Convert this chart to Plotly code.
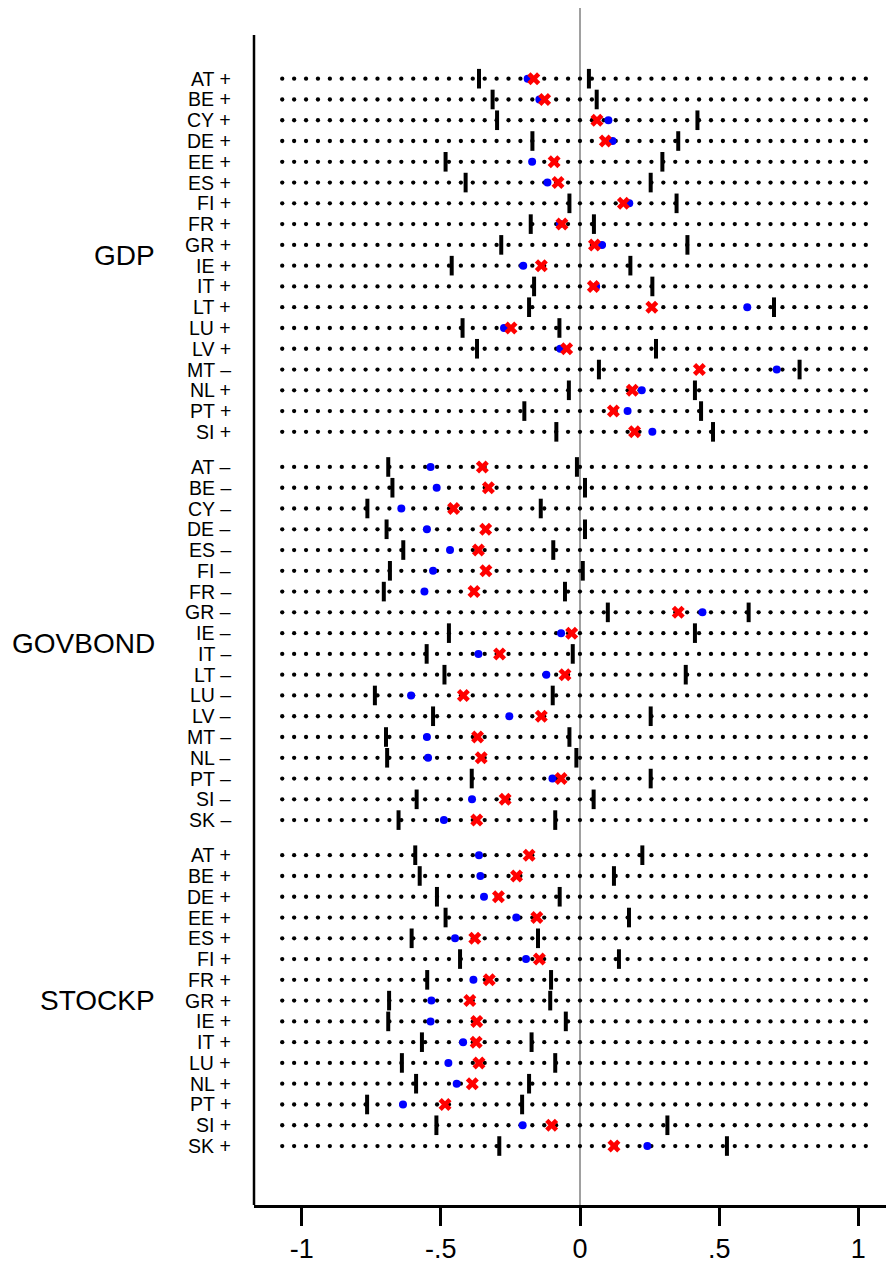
import numpy as np
import plotly.graph_objects as go

# ---------------- data ----------------
groups = ["GDP", "GOVBOND", "STOCKP"]

gdp_countries = ["AT", "BE", "CY", "DE", "EE", "ES", "FI", "FR", "GR", "IE", "IT", "LT", "LU", "LV", "MT", "NL", "PT", "SI"]
gdp_signs = ["+", "+", "+", "+", "+", "+", "+", "+", "+", "+", "+", "+", "+", "+", "–", "+", "+", "+"]
gdp_lo = [-0.363, -0.314, -0.298, -0.171, -0.483, -0.411, -0.038, -0.177, -0.283, -0.461, -0.165, -0.183, -0.422, -0.370, 0.068, -0.040, -0.200, -0.085]
gdp_blue = [-0.188, -0.146, 0.102, 0.117, -0.172, -0.117, 0.177, -0.072, 0.079, -0.204, 0.058, 0.601, -0.273, -0.071, 0.707, 0.222, 0.171, 0.260]
gdp_red = [-0.166, -0.127, 0.061, 0.091, -0.093, -0.079, 0.156, -0.065, 0.052, -0.139, 0.048, 0.258, -0.248, -0.048, 0.429, 0.188, 0.120, 0.196]
gdp_hi = [0.032, 0.060, 0.422, 0.353, 0.296, 0.254, 0.347, 0.050, 0.386, 0.181, 0.260, 0.697, -0.074, 0.273, 0.789, 0.413, 0.435, 0.478]

gov_countries = ["AT", "BE", "CY", "DE", "ES", "FI", "FR", "GR", "IE", "IT", "LT", "LU", "LV", "MT", "NL", "PT", "SI", "SK"]
gov_signs = ["–"] * 18
gov_lo = [-0.689, -0.674, -0.764, -0.695, -0.635, -0.683, -0.705, 0.100, -0.471, -0.551, -0.487, -0.737, -0.528, -0.697, -0.693, -0.389, -0.587, -0.652]
gov_blue = [-0.537, -0.515, -0.642, -0.550, -0.467, -0.528, -0.559, 0.440, -0.068, -0.365, -0.121, -0.607, -0.254, -0.550, -0.546, -0.099, -0.388, -0.489]
gov_red = [-0.351, -0.329, -0.454, -0.339, -0.365, -0.338, -0.381, 0.353, -0.030, -0.289, -0.054, -0.419, -0.139, -0.368, -0.355, -0.068, -0.269, -0.371]
gov_hi = [-0.011, 0.018, -0.141, 0.018, -0.096, 0.010, -0.054, 0.606, 0.413, -0.026, 0.380, -0.098, 0.254, -0.038, -0.013, 0.254, 0.049, -0.089]

stk_countries = ["AT", "BE", "DE", "EE", "ES", "FI", "FR", "GR", "IE", "IT", "LU", "NL", "PT", "SI", "SK"]
stk_signs = ["+"] * 15
stk_lo = [-0.592, -0.576, -0.514, -0.483, -0.605, -0.431, -0.549, -0.686, -0.689, -0.568, -0.640, -0.589, -0.765, -0.516, -0.290]
stk_blue = [-0.363, -0.358, -0.345, -0.229, -0.449, -0.194, -0.383, -0.534, -0.537, -0.420, -0.473, -0.443, -0.636, -0.206, 0.242]
stk_red = [-0.183, -0.228, -0.293, -0.155, -0.378, -0.146, -0.326, -0.396, -0.371, -0.373, -0.363, -0.387, -0.485, -0.102, 0.122]
stk_hi = [0.224, 0.122, -0.073, 0.176, -0.151, 0.140, -0.104, -0.107, -0.051, -0.174, -0.089, -0.183, -0.208, 0.314, 0.528]

tick_vals = [-1, -0.5, 0, 0.5, 1]
tick_text = ["-1", "-.5", "0", ".5", "1"]

# ---------------- layout helpers ----------------
GAP = 0.69          # extra space between groups (in row units)
DOT_LO, DOT_HI, N_DOTS = -1.07, 1.027, 50

group_data = [
    (gdp_countries, gdp_signs, gdp_lo, gdp_blue, gdp_red, gdp_hi),
    (gov_countries, gov_signs, gov_lo, gov_blue, gov_red, gov_hi),
    (stk_countries, stk_signs, stk_lo, stk_blue, stk_red, stk_hi),
]

ys_all, labels_all, lo_all, blue_all, red_all, hi_all = [], [], [], [], [], []
group_centers = []
pos = 0.0
for gi, (cs, sg, lo, bl, rd, hi) in enumerate(group_data):
    if gi > 0:
        pos += GAP
    ys = [pos + i for i in range(len(cs))]
    group_centers.append((ys[0] + ys[-1]) / 2)
    pos = ys[-1] + 1
    ys_all += ys
    labels_all += [f"{c} {s}" for c, s in zip(cs, sg)]
    lo_all += lo
    blue_all += bl
    red_all += rd
    hi_all += hi

fig = go.Figure()

# dotted guide lines
dx = np.linspace(DOT_LO, DOT_HI, N_DOTS)
gx, gy = [], []
for y in ys_all:
    gx += list(dx)
    gy += [y] * N_DOTS
fig.add_trace(go.Scatter(x=gx, y=gy, mode="markers",
                         marker=dict(color="black", size=4.3, line=dict(width=0)),
                         hoverinfo="skip", showlegend=False))

# interval bounds (vertical bars)
fig.add_trace(go.Scatter(x=lo_all + hi_all, y=ys_all + ys_all, mode="markers",
                         marker=dict(symbol="line-ns", size=14, line=dict(width=4, color="black")),
                         showlegend=False))
# blue dots
fig.add_trace(go.Scatter(x=blue_all, y=ys_all, mode="markers",
                         marker=dict(symbol="circle", size=8, color="#0000ff", line=dict(width=0)),
                         showlegend=False))
# red crosses
fig.add_trace(go.Scatter(x=red_all, y=ys_all, mode="markers",
                         marker=dict(symbol="x", size=11.5, color="#ff0000", line=dict(width=0)),
                         showlegend=False))

# page offset (browser body margin)
OFF = 8
PLOT_W = 894 - OFF
FIG_H = 1264 - OFF
LEFT = 254 - OFF

# country labels
ann = []
for y, lab in zip(ys_all, labels_all):
    ann.append(dict(x=(233 - 254) / (894 - 254), xref="paper", y=y, yref="y", text=lab, showarrow=False,
                    xanchor="right", yanchor="middle",
                    font=dict(family="Liberation Sans, Arial", size=19.5, color="black")))
for g, yc in zip(groups, group_centers):
    ann.append(dict(x=(157 - 254) / (894 - 254), xref="paper", y=yc, yref="y", text=g, showarrow=False,
                    xanchor="right", yanchor="middle",
                    font=dict(family="Liberation Sans, Arial", size=28, color="black")))

ROW_PX = 20.86
TOP_PX, FIRST_ROW_PX, AXIS_PX = 8, 79, 1210
y_top = (TOP_PX - FIRST_ROW_PX) / ROW_PX
y_bot = (AXIS_PX - FIRST_ROW_PX) / ROW_PX

shapes = [
    dict(type="line", xref="x", yref="paper", x0=0, x1=0, y0=0, y1=1,
         line=dict(color="#808080", width=1.5), layer="below"),
    dict(type="line", xref="paper", yref="paper", x0=0, x1=0, y0=0, y1=(AXIS_PX - 35) / (AXIS_PX - TOP_PX),
         line=dict(color="black", width=2.5)),
]

fig.update_layout(
    width=PLOT_W, height=FIG_H,
    margin=dict(l=LEFT, r=0, t=TOP_PX - OFF, b=1264 - AXIS_PX),
    plot_bgcolor="white", paper_bgcolor="white",
    annotations=ann, shapes=shapes,
    xaxis=dict(range=[(254 - 580) / 278.3, (894 - 580) / 278.3],
               tickvals=tick_vals, ticktext=tick_text,
               ticks="outside", ticklen=18, tickwidth=2.5, tickcolor="black",
               showline=True, linecolor="black", linewidth=2.5,
               showgrid=False, zeroline=False,
               tickfont=dict(family="Liberation Sans, Arial", size=27, color="black")),
    yaxis=dict(range=[y_bot, y_top], showticklabels=False, showgrid=False,
               zeroline=False, showline=False, ticks=""),
)

fig.write_html("out.html")
